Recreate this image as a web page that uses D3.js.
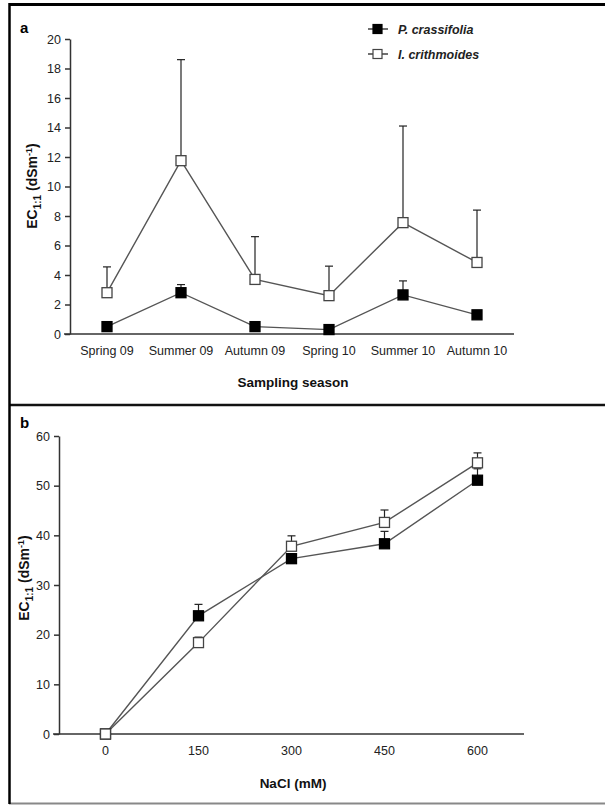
<!DOCTYPE html>
<html>
<head>
<meta charset="utf-8">
<script src="https://cdn.jsdelivr.net/npm/d3@7.9.0/dist/d3.min.js"></script>
<style>
  body { margin: 0; background: #fff; }
  svg { display: block; font-family: "Liberation Sans", Arial, sans-serif; }
  .tick text { font-size: 12.5px; fill: #222; }
  .axis path, .axis line { stroke: #333; stroke-width: 1.5; }
</style>
</head>
<body>
<svg id="chart" width="605" height="805"></svg>
<script>
// panel a data
const seasons = ["Spring 09", "Summer 09", "Autumn 09", "Spring 10", "Summer 10", "Autumn 10"];
const crassSeason = [0.5, 2.8, 0.5, 0.3, 2.65, 1.3];
const crassSeasonErr = [0.1, 0.55, 0.1, 0.1, 0.95, 0.2];
const crithSeason = [2.8, 11.75, 3.7, 2.6, 7.55, 4.85];
const crithSeasonErr = [1.75, 6.85, 2.9, 2.0, 6.55, 3.55];
const yTicksA = [0, 2, 4, 6, 8, 10, 12, 14, 16, 18, 20];

// panel b data
const nacl = ["0", "150", "300", "450", "600"];
const crassNacl = [0, 23.8, 35.3, 38.3, 51.1];
const crassNaclErr = [0, 2.3, 1.0, 2.5, 2.3];
const crithNacl = [0, 18.4, 37.8, 42.6, 54.6];
const crithNaclErr = [0, 1.1, 2.1, 2.5, 2.0];
const yTicksB = [0, 10, 20, 30, 40, 50, 60];

const seriesNames = ["P. crassifolia", "I. crithmoides"];

const svg = d3.select("#chart");

// panel frames
svg.append("line")
  .attr("x1", 9).attr("x2", 605).attr("y1", 4.5).attr("y2", 4.5)
  .attr("stroke", "#000").attr("stroke-width", 3);
svg.append("line")
  .attr("x1", 9).attr("x2", 605).attr("y1", 405).attr("y2", 405)
  .attr("stroke", "#111").attr("stroke-width", 2.5);
svg.append("line")
  .attr("x1", 9).attr("x2", 605).attr("y1", 803.5).attr("y2", 803.5)
  .attr("stroke", "#888").attr("stroke-width", 2);
svg.append("line")
  .attr("x1", 9.5).attr("x2", 9.5).attr("y1", 3).attr("y2", 804)
  .attr("stroke", "#000").attr("stroke-width", 2.5);

function drawPanel(cfg) {
  const g = svg.append("g");
  const x = d3.scaleBand().domain(cfg.cats).range([cfg.x0, cfg.x1]);
  const y = d3.scaleLinear().domain([0, cfg.yMax]).range([cfg.y0, cfg.y1]);

  g.append("g").attr("class", "axis")
    .attr("transform", `translate(${cfg.x0},0)`)
    .call(d3.axisLeft(y).tickValues(cfg.yTicks).tickSize(5).tickSizeOuter(0).tickPadding(4));
  g.append("g").attr("class", "axis")
    .attr("transform", `translate(0,${cfg.y0})`)
    .call(d3.axisBottom(x).tickSize(0).tickPadding(cfg.xPad))
    .select(".domain").attr("d", `M${cfg.x0 - 6},0H${cfg.x1}`);

  const cx = c => x(c) + x.bandwidth() / 2;
  const line = d3.line().x(d => cx(d.c)).y(d => y(d.v));

  cfg.series.forEach(s => {
    const pts = cfg.cats.map((c, i) => ({ c, v: s.vals[i], e: s.err[i] }));
    // error bars (upper only)
    pts.forEach(p => {
      if (!p.e) return;
      g.append("line").attr("x1", cx(p.c)).attr("x2", cx(p.c))
        .attr("y1", y(p.v)).attr("y2", y(p.v + p.e))
        .attr("stroke", "#222").attr("stroke-width", 1.2);
      g.append("line").attr("x1", cx(p.c) - 4).attr("x2", cx(p.c) + 4)
        .attr("y1", y(p.v + p.e)).attr("y2", y(p.v + p.e))
        .attr("stroke", "#222").attr("stroke-width", 1.2);
    });
  });
  cfg.series.forEach(s => {
    const pts = cfg.cats.map((c, i) => ({ c, v: s.vals[i] }));
    g.append("path").attr("d", line(pts))
      .attr("fill", "none").attr("stroke", "#555").attr("stroke-width", 1.4);
  });
  cfg.series.forEach(s => {
    const pts = cfg.cats.map((c, i) => ({ c, v: s.vals[i] }));
    g.selectAll(null).data(pts).join("rect")
      .attr("x", d => cx(d.c) - cfg.ms / 2).attr("y", d => y(d.v) - cfg.ms / 2)
      .attr("width", cfg.ms).attr("height", cfg.ms)
      .attr("fill", s.fill).attr("stroke", s.fill === "#000" ? "#000" : "#444")
      .attr("stroke-width", 1.3);
  });

  // y title with subscript
  const yt = g.append("text")
    .attr("transform", `translate(${cfg.ytX},${cfg.ytY}) rotate(-90)`)
    .attr("text-anchor", "middle").attr("font-weight", "bold")
    .attr("font-size", 14).attr("fill", "#111");
  yt.append("tspan").text("EC");
  yt.append("tspan").attr("font-size", 10).attr("dy", 4).text("1:1");
  yt.append("tspan").attr("dy", -4).text(" (dSm");
  yt.append("tspan").attr("font-size", 9).attr("dy", -5).text("-1");
  yt.append("tspan").attr("dy", 5).text(")");

  g.append("text").attr("x", cfg.xtX).attr("y", cfg.xtY)
    .attr("text-anchor", "middle").attr("font-weight", "bold")
    .attr("font-size", 13.5).attr("fill", "#111").text(cfg.xTitle);

  g.append("text").attr("x", 20).attr("y", cfg.labelY)
    .attr("font-weight", "bold").attr("font-size", 15).attr("fill", "#000").text(cfg.label);
}

drawPanel({
  cats: seasons, x0: 70, x1: 514, y0: 334, y1: 39, yMax: 20, yTicks: yTicksA,
  xPad: 12, ms: 10, ytX: 37, ytY: 186, xtX: 293, xtY: 387, xTitle: "Sampling season",
  label: "a", labelY: 33,
  series: [
    { vals: crithSeason, err: crithSeasonErr, fill: "#fff" },
    { vals: crassSeason, err: crassSeasonErr, fill: "#000" }
  ]
});

drawPanel({
  cats: nacl, x0: 59, x1: 524, y0: 734, y1: 436, yMax: 60, yTicks: yTicksB,
  xPad: 12, ms: 10, ytX: 29, ytY: 578, xtX: 293, xtY: 788, xTitle: "NaCl (mM)",
  label: "b", labelY: 428,
  series: [
    { vals: crassNacl, err: crassNaclErr, fill: "#000" },
    { vals: crithNacl, err: crithNaclErr, fill: "#fff" }
  ]
});

// legend
const legend = svg.append("g");
[{ fill: "#000" }, { fill: "#fff" }].forEach((d, i) => {
  const ly = 29 + i * 25;
  legend.append("line").attr("x1", 368).attr("x2", 388).attr("y1", ly).attr("y2", ly)
    .attr("stroke", "#333").attr("stroke-width", 1.4);
  legend.append("rect").attr("x", 373).attr("y", ly - 4.5).attr("width", 9).attr("height", 9)
    .attr("fill", d.fill).attr("stroke", d.fill === "#000" ? "#000" : "#444").attr("stroke-width", 1.2);
  legend.append("text").attr("x", 398).attr("y", ly + 4.5)
    .attr("font-size", 12.5).attr("font-style", "italic").attr("font-weight", "bold")
    .attr("fill", "#222").text(seriesNames[i]);
});
</script>
</body>
</html>
